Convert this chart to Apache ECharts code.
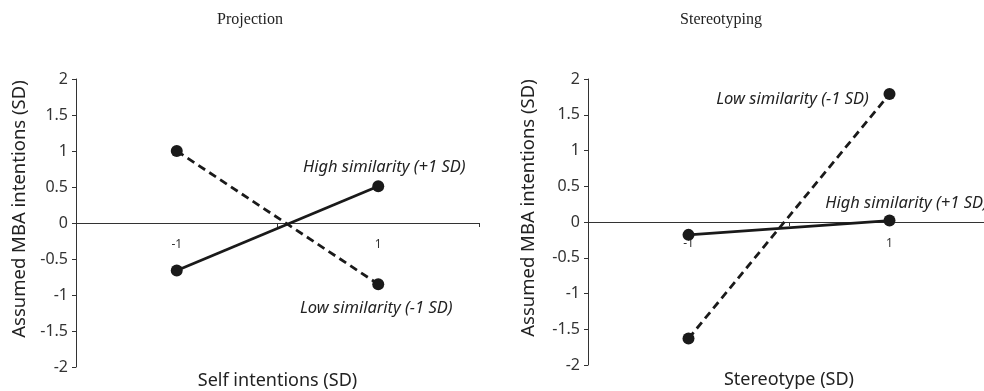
<!DOCTYPE html>
<html>
<head>
<meta charset="utf-8">
<script src="https://cdn.jsdelivr.net/npm/echarts@6/dist/echarts.min.js"></script>
<style>
  html, body { margin: 0; padding: 0; background: #fff; }
  #chart { width: 984px; height: 391px; }
</style>
</head>
<body>
<div id="chart"></div>
<script>
var levels = ['-1', '1'];
var projHigh = [-0.66, 0.51];
var projLow = [1.0, -0.85];
var stereoHigh = [-0.18, 0.02];
var stereoLow = [-1.63, 1.79];
var panelTitles = ['Projection', 'Stereotyping'];
var xNames = ['Self intentions (SD)', 'Stereotype (SD)'];
var yName = 'Assumed MBA intentions (SD)';
var highText = 'High similarity (+1 SD)';
var lowText = 'Low similarity (-1 SD)';

var chart = echarts.init(document.getElementById('chart'));
var ink = '#1a1a1a';
var sans = '"Noto Sans", "Open Sans", sans-serif';

// the category labels stay with the grid bottom in v6, so pull them up
// to sit just under the zero line
function xAxisFor(i, labelMargin, nameGap) {
    return {
        type: 'category',
        gridIndex: i,
        data: levels,
        boundaryGap: true,
        name: xNames[i],
        nameLocation: 'middle',
        nameGap: nameGap,
        nameTextStyle: { fontFamily: sans, fontSize: 18, color: '#222' },
        axisLine: { onZero: true, lineStyle: { color: '#333', width: 1 } },
        axisTick: { show: true, length: 4, lineStyle: { color: '#333' } },
        axisLabel: { margin: labelMargin, fontFamily: sans, fontSize: 12, color: '#333' },
        splitLine: { show: false }
    };
}

function yAxisFor(i, nameGap) {
    return {
        type: 'value',
        gridIndex: i,
        min: -2,
        max: 2,
        interval: 0.5,
        name: yName,
        nameLocation: 'middle',
        nameRotate: 90,
        nameGap: nameGap,
        // name sits a bit above the middle of the axis
        nameTextStyle: { fontFamily: sans, fontSize: 18.5, color: '#222', padding: [0, 0, 0, 28] },
        axisLine: { show: true, lineStyle: { color: '#333', width: 1 } },
        axisTick: { show: true, length: 4, lineStyle: { color: '#333' } },
        axisLabel: { margin: 8, fontFamily: sans, fontSize: 16, color: '#333' },
        splitLine: { show: false }
    };
}

function lineSeries(i, values, dashed, text, offset) {
    return {
        type: 'line',
        xAxisIndex: i,
        yAxisIndex: i,
        symbol: 'circle',
        symbolSize: 12,
        itemStyle: { color: ink },
        lineStyle: { color: ink, width: 2.8, type: dashed ? [8, 5] : 'solid' },
        data: values.map(function (v, k) {
            if (k !== values.length - 1) return v;
            return {
                value: v,
                label: {
                    show: true,
                    position: 'inside',
                    offset: offset,
                    formatter: text,
                    fontFamily: sans,
                    fontStyle: 'italic',
                    fontSize: 16.5,
                    color: '#222'
                }
            };
        }),
        animation: false
    };
}

var titleStyle = { fontFamily: '"Liberation Serif", serif', fontWeight: 'normal', fontSize: 16, color: '#222' };

var option = {
    backgroundColor: '#fff',
    title: [
        { text: panelTitles[0], left: 245, top: 7, textAlign: 'center', textStyle: titleStyle },
        { text: panelTitles[1], left: 716, top: 7, textAlign: 'center', textStyle: titleStyle }
    ],
    grid: [
        { left: 76, right: 505, top: 79, bottom: 24, outerBoundsMode: 'none', containLabel: false },
        { left: 588, right: -6, top: 79, bottom: 26, outerBoundsMode: 'none', containLabel: false }
    ],
    xAxis: [xAxisFor(0, -128, 5), xAxisFor(1, -127, 6)],
    yAxis: [yAxisFor(0, 47), yAxisFor(1, 50)],
    series: [
        lineSeries(0, projHigh, false, highText, [6, -19]),
        lineSeries(0, projLow, true, lowText, [-2, 24]),
        lineSeries(1, stereoHigh, false, highText, [17, -17]),
        lineSeries(1, stereoLow, true, lowText, [-97, 5])
    ]
};

chart.setOption(option);
</script>
</body>
</html>
